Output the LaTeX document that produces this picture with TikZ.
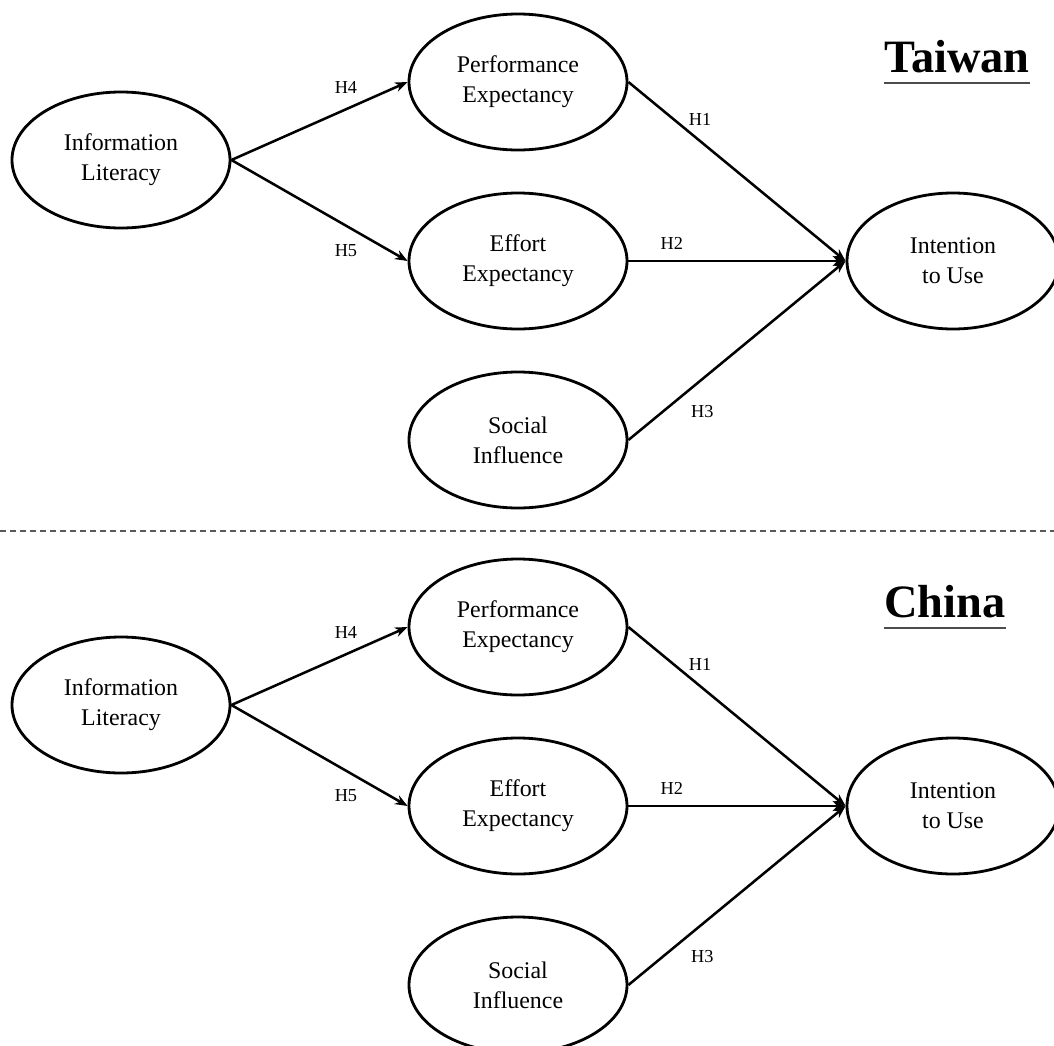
\documentclass[tikz,border=0pt]{standalone}
\usepackage{fontspec}
\setmainfont{Liberation Serif}
\usetikzlibrary{shapes.geometric,arrows.meta}
\tikzset{
    construct/.style={ellipse,draw,line width=2pt,minimum width=5.45cm,minimum height=3.4cm,
        inner sep=0pt,align=center,font=\fontsize{17}{21.3}\selectfont},
    hypo/.style={-{Stealth[length=9pt,width=7pt]},line width=1.8pt},
    hlabel/.style={font=\fontsize{13}{15}\selectfont},
    paneltitle/.style={anchor=base west,inner xsep=0pt,inner ysep=0.25cm,font=\fontsize{33}{36}\selectfont\bfseries}
}

\begin{document}
\begin{tikzpicture}
    \useasboundingbox (0,0) rectangle (26.35,-26.15);
    % two panels, same model
    \foreach \p/\country/\dy in {tw/Taiwan/0, cn/China/-13.625}{
        \begin{scope}[yshift=\dy cm]
            \node[construct] (\p IL) at (3.025,-4.0) {Information\\Literacy};
            \node[construct] (\p PE) at (12.95,-2.05) {Performance\\Expectancy};
            \node[construct] (\p EE) at (12.95,-6.525) {Effort\\Expectancy};
            \node[construct] (\p SI) at (12.95,-11.0) {Social\\Influence};
            \node[construct,minimum width=5.3cm] (\p IU) at (23.825,-6.525) {Intention\\to Use};
            \draw[hypo] (\p IL.east) -- node[hlabel,pos=.65,yshift=0.55cm] (\p H4) {H4} (\p PE.west);
            \draw[hypo] (\p IL.east) -- node[hlabel,pos=.65,yshift=-0.63cm] (\p H5) {H5} (\p EE.west);
            \draw[hypo] (\p PE.east) -- node[hlabel,pos=.33,yshift=0.55cm] (\p H1) {H1} (\p IU.west);
            \draw[hypo] (\p EE.east) -- node[hlabel,pos=.2,yshift=0.45cm] (\p H2) {H2} (\p IU.west);
            \draw[hypo] (\p SI.east) -- node[hlabel,pos=.34,yshift=-0.8cm] (\p H3) {H3} (\p IU.west);
            \node[paneltitle] (\p T) at (22.1,-1.8) {\country};
            \draw[gray!60!black,line width=1.2pt] (\p T.south west) -- (\p T.south east);
        \end{scope}
    }
    \draw[gray!70!black,line width=1pt,dash pattern=on 0.15cm off 0.1cm] (0,-13.275) -- (26.35,-13.275);
\end{tikzpicture}
\end{document}
